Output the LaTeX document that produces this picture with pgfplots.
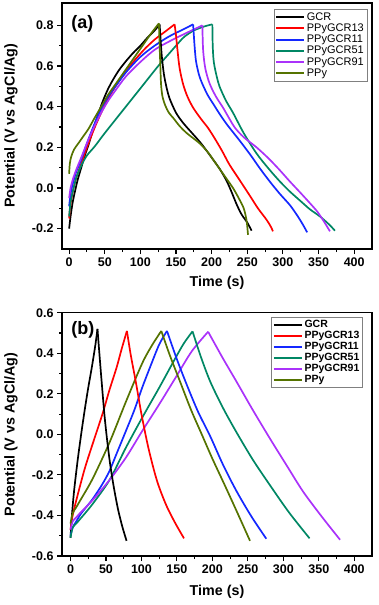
\documentclass[border=0pt]{standalone}
\usepackage{fontspec}
\setmainfont{Liberation Sans}
\usepackage{pgfplots}
\pgfplotsset{compat=1.18}
\definecolor{cGreen}{RGB}{0,135,100}
\definecolor{cPurple}{RGB}{170,50,250}
\definecolor{cOlive}{RGB}{85,115,0}
\definecolor{cBlue}{RGB}{20,40,255}
\definecolor{cRed}{RGB}{255,0,0}
\pgfplotsset{
  myaxis/.style={
    scale only axis,
    width=310pt,
    /pgf/number format/assume math mode=true,
    axis line style={line width=1.4pt},
    tick align=outside,
    xtick pos=left, ytick pos=left,
    major tick length=5pt, minor tick length=3pt,
    every tick/.style={line width=1.1pt, black},
    tick label style={font=\bfseries\fontsize{12.5}{12.5}\selectfont},
    label style={font=\bfseries\fontsize{14.3}{14.3}\selectfont},
    xtick={0,50,...,400}, minor x tick num=1,
    minor y tick num=1,
    yticklabel style={/pgf/number format/fixed,/pgf/number format/fixed zerofill,/pgf/number format/precision=1},
    xlabel={Time (s)},
    ylabel={Potential (V vs AgCl/Ag)},
    legend cell align=left,
    legend image code/.code={\draw[#1] (0pt,0pt) -- (28pt,0pt);},
    legend image post style={line width=2pt},
    every axis plot/.append style={line width=1.7pt, smooth, tension=0.5},
  }
}
\begin{document}
\begin{tikzpicture}
\begin{axis}[myaxis,
  at={(62pt,-3pt)}, anchor=north west,
  height=246pt,
  xmin=-10, xmax=425, ymin=-0.3, ymax=0.91,
  ytick={-0.2,0,0.2,0.4,0.6,0.8},
  x label style={at={(axis description cs:0.5,-0.136)},anchor=center},
  y label style={at={(axis description cs:-0.1645,0.5)},anchor=center},
  legend style={at={(axis description cs:0.984,0.974)},anchor=north east,
    draw=gray, fill=white, font=\fontsize{11}{11}\selectfont,
    row sep=-1.2pt, inner sep=1.5pt, nodes={inner sep=1.6pt}},
]
\addplot[black] coordinates {(0,-0.20)(2,-0.14)(5,-0.07)(8,-0.02)(12,0.04)(17,0.10)(22,0.16)(27,0.21)(33,0.28)(40,0.355)(47,0.425)(55,0.49)(62,0.535)(70,0.58)(80,0.625)(90,0.665)(100,0.70)(110,0.74)(120,0.775)(127,0.805)};
\addlegendentry{GCR}
\addplot[cRed] coordinates {(0,-0.15)(2,-0.08)(5,-0.02)(10,0.05)(17,0.12)(25,0.20)(35,0.29)(45,0.37)(55,0.44)(65,0.50)(75,0.55)(90,0.62)(105,0.68)(120,0.73)(135,0.77)(148,0.805)};
\addlegendentry{PPyGCR13}
\addplot[cBlue] coordinates {(0,-0.09)(2,-0.03)(5,0.02)(10,0.08)(17,0.14)(25,0.22)(35,0.31)(45,0.39)(55,0.45)(65,0.50)(80,0.57)(100,0.645)(120,0.70)(140,0.745)(160,0.78)(174,0.805)};
\addlegendentry{PPyGCR11}
\addplot[cGreen] coordinates {(0,-0.14)(2,-0.07)(5,-0.02)(10,0.05)(17,0.11)(25,0.16)(36,0.205)(50,0.27)(75,0.38)(100,0.49)(125,0.60)(140,0.66)(155,0.72)(162,0.745)(175,0.775)(190,0.795)(201,0.805)};
\addlegendentry{PPyGCR51}
\addplot[cPurple] coordinates {(0,-0.05)(2,0.0)(5,0.04)(10,0.09)(17,0.15)(25,0.22)(35,0.30)(45,0.37)(55,0.43)(65,0.48)(80,0.55)(100,0.62)(120,0.68)(140,0.72)(160,0.755)(175,0.78)(187,0.80)};
\addlegendentry{PPyGCR91}
\addplot[cOlive] coordinates {(0,0.07)(1,0.12)(3,0.155)(7,0.19)(13,0.22)(20,0.255)(27,0.29)(35,0.34)(45,0.40)(55,0.46)(65,0.51)(75,0.56)(85,0.61)(95,0.66)(105,0.71)(115,0.76)(126,0.81)};
\addlegendentry{PPy}
\addplot[black, forget plot] coordinates {(127,0.805)(128,0.75)(130,0.65)(133,0.56)(137,0.49)(141,0.44)(150,0.37)(160,0.32)(170,0.28)(185,0.22)(202,0.14)(212,0.09)(221,0.035)(228,-0.02)(235,-0.08)(242,-0.13)(250,-0.17)(256,-0.21)};
\addplot[cRed, forget plot] coordinates {(148,0.805)(150,0.75)(152,0.68)(155,0.59)(160,0.51)(166,0.45)(174,0.395)(185,0.34)(195,0.295)(205,0.24)(215,0.18)(225,0.115)(240,0.035)(254,-0.04)(265,-0.10)(277,-0.156)(283,-0.19)(286,-0.213)};
\addplot[cBlue, forget plot] coordinates {(174,0.805)(176,0.70)(178,0.625)(182,0.56)(186,0.52)(194,0.46)(202,0.415)(212,0.36)(222,0.31)(240,0.23)(255,0.16)(268,0.095)(282,0.03)(296,-0.03)(310,-0.085)(321,-0.14)(328,-0.18)(334,-0.218)};
\addplot[cGreen, forget plot] coordinates {(201,0.805)(201.5,0.70)(203,0.62)(207,0.55)(211,0.50)(220,0.43)(230,0.37)(245,0.27)(263,0.17)(280,0.095)(295,0.035)(309,-0.015)(325,-0.065)(338,-0.105)(352,-0.14)(365,-0.18)(373,-0.21)};
\addplot[cPurple, forget plot] coordinates {(187,0.80)(188,0.68)(191,0.59)(197,0.515)(206,0.45)(216,0.395)(225,0.34)(233,0.295)(245,0.25)(263,0.20)(280,0.145)(295,0.09)(309,0.035)(325,-0.025)(338,-0.075)(348,-0.115)(356,-0.156)(362,-0.19)(366,-0.213)};
\addplot[cOlive, forget plot] coordinates {(126,0.81)(127,0.70)(128,0.60)(129,0.51)(131,0.45)(135,0.405)(140,0.37)(146,0.345)(155,0.305)(165,0.27)(183,0.22)(195,0.175)(202,0.14)(212,0.09)(222,0.04)(230,0.0)(238,-0.05)(245,-0.10)(249,-0.16)(251,-0.23)};
\node[anchor=west,font=\bfseries\fontsize{18}{18}\selectfont] at (axis description cs:0.019,0.915) {(a)};
\end{axis}

\begin{axis}[myaxis,
  at={(62pt,-312.7pt)}, anchor=north west,
  height=243.3pt,
  xmin=-12, xmax=425, ymin=-0.6, ymax=0.6,
  ytick={-0.6,-0.4,-0.2,0,0.2,0.4,0.6},
  x label style={at={(axis description cs:0.5,-0.146)},anchor=center},
  y label style={at={(axis description cs:-0.1645,0.5)},anchor=center},
  legend style={at={(axis description cs:0.970,0.982)},anchor=north east,
    draw=gray, fill=white, font=\bfseries\fontsize{10.5}{10.5}\selectfont,
    row sep=-1pt, inner sep=1.5pt, nodes={inner sep=1.6pt}},
]
\addplot[black] coordinates {(0,-0.51)(2,-0.40)(5,-0.28)(10,-0.13)(15,0.0)(20,0.12)(25,0.23)(30,0.33)(35,0.44)(38,0.52)};
\addlegendentry{GCR}
\addplot[cRed] coordinates {(0,-0.47)(3,-0.40)(10,-0.30)(20,-0.17)(30,-0.06)(45,0.10)(55,0.22)(65,0.33)(72,0.42)(79.5,0.51)};
\addlegendentry{PPyGCR13}
\addplot[cBlue] coordinates {(0,-0.50)(3,-0.46)(8,-0.43)(15,-0.39)(31,-0.32)(45,-0.245)(55,-0.18)(65,-0.095)(78,0.016)(90,0.12)(101,0.23)(112,0.33)(125,0.443)(136,0.51)};
\addlegendentry{PPyGCR11}
\addplot[cGreen] coordinates {(0,-0.51)(3,-0.46)(8,-0.44)(13,-0.42)(31,-0.344)(55,-0.225)(78,-0.066)(101,0.082)(125,0.23)(148,0.377)(160,0.45)(172,0.508)};
\addlegendentry{PPyGCR51}
\addplot[cPurple] coordinates {(0,-0.47)(3,-0.43)(8,-0.41)(13,-0.39)(31,-0.325)(55,-0.225)(78,-0.115)(101,0.016)(125,0.148)(148,0.279)(171,0.41)(194,0.506)};
\addlegendentry{PPyGCR91}
\addplot[cOlive] coordinates {(0,-0.44)(3,-0.39)(8,-0.36)(13,-0.33)(31,-0.22)(55,-0.04)(78,0.16)(101,0.35)(115,0.44)(128,0.51)};
\addlegendentry{PPy}
\addplot[black, forget plot] coordinates {(38,0.52)(41,0.385)(44,0.255)(48,0.09)(52,-0.04)(56,-0.15)(61,-0.26)(67,-0.37)(73,-0.455)(79,-0.525)};
\addplot[cRed, forget plot] coordinates {(79.5,0.51)(85,0.39)(92,0.26)(100,0.10)(110,-0.07)(122,-0.23)(135,-0.35)(148,-0.44)(160,-0.513)};
\addplot[cBlue, forget plot] coordinates {(136,0.51)(150,0.37)(165,0.235)(180,0.11)(197,-0.01)(215,-0.15)(234,-0.28)(255,-0.405)(276,-0.515)};
\addplot[cGreen, forget plot] coordinates {(172,0.508)(184,0.38)(197,0.26)(215,0.13)(234,0.01)(257,-0.125)(281,-0.25)(308,-0.385)(337,-0.513)};
\addplot[cPurple, forget plot] coordinates {(194,0.506)(214,0.38)(234,0.26)(257,0.12)(281,-0.02)(305,-0.155)(328,-0.283)(354,-0.405)(380,-0.52)};
\addplot[cOlive, forget plot] coordinates {(128,0.51)(140,0.39)(155,0.255)(170,0.12)(185,0.0)(200,-0.12)(218,-0.255)(235,-0.385)(253,-0.525)};
\node[anchor=west,font=\bfseries\fontsize{18}{18}\selectfont] at (axis description cs:0.019,0.931) {(b)};
\end{axis}
\pgfresetboundingbox
\path[use as bounding box] (0pt,0pt) rectangle (378pt,-605pt);
\end{tikzpicture}
\end{document}
